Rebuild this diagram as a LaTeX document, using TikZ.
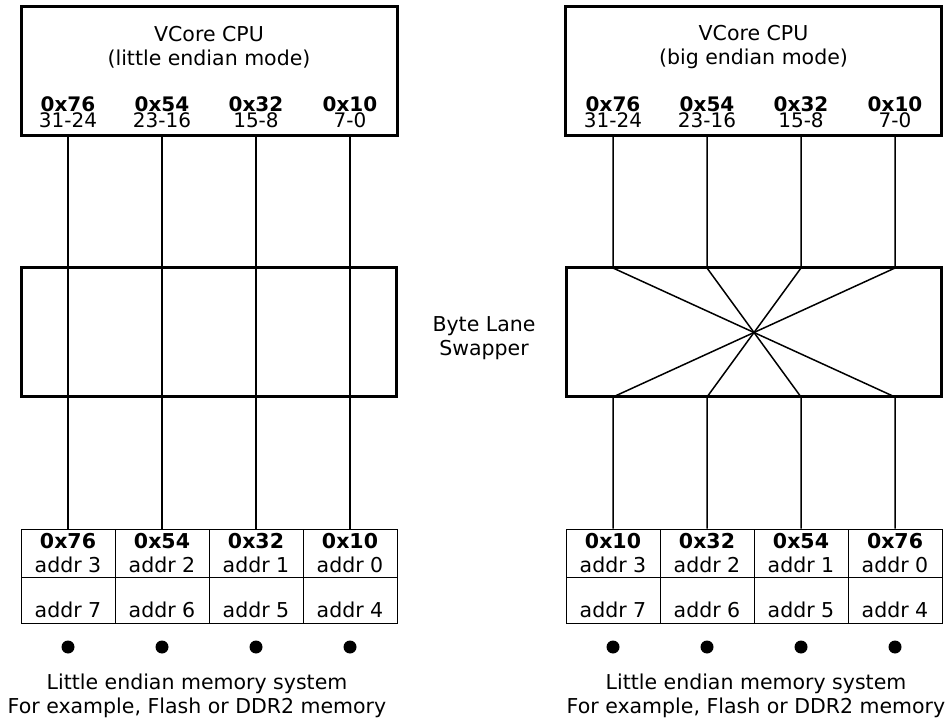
\documentclass[tikz,border=0pt]{standalone}
\usepackage{fontspec}
\setmainfont{DejaVu Sans}
\usetikzlibrary{positioning,calc}

\begin{document}
\begin{tikzpicture}[x=1pt,y=-1pt,
 txt/.style={align=center,inner sep=0pt,font=\fontsize{20.5}{24}\selectfont},
 lane/.style={txt,font=\fontsize{20}{24}\selectfont},
 cpubox/.style={draw,line width=3pt,outer sep=0pt,minimum width=376pt,minimum height=129pt},
 swapbox/.style={cpubox,minimum width=375pt},
 cellbox/.style={draw,line width=0.9pt,inner sep=0pt,minimum width=94pt,font=\fontsize{20.5}{24}\selectfont},
 topcell/.style={cellbox,minimum height=48pt,align=center},
 lowcell/.style={cellbox,minimum height=46pt,text height=34pt,text depth=0pt},
 wire/.style={line width=1.5pt,line join=round},
 dot/.style={circle,fill,inner sep=0pt,minimum size=13pt}]
\useasboundingbox (0,0) rectangle (951,719);
% little endian side
\node[cpubox] (cpuL) at (209,71.5) {};
\node[txt] (titleL) at (209,47.5) {VCore CPU\\(little endian mode)};
\node[lane] (bL0) at (68,112) {\textbf{0x76}\\[-8pt]31-24};
\node[lane] (bL1) at (162,112) {\textbf{0x54}\\[-8pt]23-16};
\node[lane] (bL2) at (256,112) {\textbf{0x32}\\[-8pt]15-8};
\node[lane] (bL3) at (350,112) {\textbf{0x10}\\[-8pt]7-0};
\node[swapbox] (swapL) at (208.5,332.5) {};
\node[topcell] (mL0) at (68,553) {\textbf{0x76}\\addr 3};
\node[topcell] (mL1) at (162,553) {\textbf{0x54}\\addr 2};
\node[topcell] (mL2) at (256,553) {\textbf{0x32}\\addr 1};
\node[topcell] (mL3) at (350,553) {\textbf{0x10}\\addr 0};
\node[lowcell] (mL4) at (68,600) {addr 7};
\node[lowcell] (mL5) at (162,600) {addr 6};
\node[lowcell] (mL6) at (256,600) {addr 5};
\node[lowcell] (mL7) at (350,600) {addr 4};
\node[dot] (dL0) at (68,647) {}; \node[dot] (dL1) at (162,647) {};
\node[dot] (dL2) at (256,647) {}; \node[dot] (dL3) at (350,647) {};
\node[txt] (memL) at (197,695.5) {Little endian memory system\\For example, Flash or DDR2 memory};
\draw[wire] (mL0.north |- cpuL.south) -- (mL0.north);
\draw[wire] (mL1.north |- cpuL.south) -- (mL1.north);
\draw[wire] (mL2.north |- cpuL.south) -- (mL2.north);
\draw[wire] (mL3.north |- cpuL.south) -- (mL3.north);
% swapper label
\node[txt] (swaplbl) at (484,338) {Byte Lane\\Swapper};
% big endian side
\node[cpubox] (cpuR) at (753.5,71.5) {};
\node[txt] (titleR) at (753.5,47.5) {VCore CPU\\(big endian mode)};
\node[lane] (bR0) at (613,112) {\textbf{0x76}\\[-8pt]31-24};
\node[lane] (bR1) at (707,112) {\textbf{0x54}\\[-8pt]23-16};
\node[lane] (bR2) at (801,112) {\textbf{0x32}\\[-8pt]15-8};
\node[lane] (bR3) at (895,112) {\textbf{0x10}\\[-8pt]7-0};
\node[swapbox] (swapR) at (754,332.5) {};
\node[topcell] (mR0) at (613,553) {\textbf{0x10}\\addr 3};
\node[topcell] (mR1) at (707,553) {\textbf{0x32}\\addr 2};
\node[topcell] (mR2) at (801,553) {\textbf{0x54}\\addr 1};
\node[topcell] (mR3) at (895,553) {\textbf{0x76}\\addr 0};
\node[lowcell] (mR4) at (613,600) {addr 7};
\node[lowcell] (mR5) at (707,600) {addr 6};
\node[lowcell] (mR6) at (801,600) {addr 5};
\node[lowcell] (mR7) at (895,600) {addr 4};
\node[dot] (dR0) at (613,647) {}; \node[dot] (dR1) at (707,647) {};
\node[dot] (dR2) at (801,647) {}; \node[dot] (dR3) at (895,647) {};
\node[txt] (memR) at (756,695.5) {Little endian memory system\\For example, Flash or DDR2 memory};
\draw[wire] (mR0.north |- cpuR.south) -- (mR0.north |- swapR.north) -- (mR3.north |- swapR.south) -- (mR3.north);
\draw[wire] (mR1.north |- cpuR.south) -- (mR1.north |- swapR.north) -- (mR2.north |- swapR.south) -- (mR2.north);
\draw[wire] (mR2.north |- cpuR.south) -- (mR2.north |- swapR.north) -- (mR1.north |- swapR.south) -- (mR1.north);
\draw[wire] (mR3.north |- cpuR.south) -- (mR3.north |- swapR.north) -- (mR0.north |- swapR.south) -- (mR0.north);
\end{tikzpicture}
\end{document}
